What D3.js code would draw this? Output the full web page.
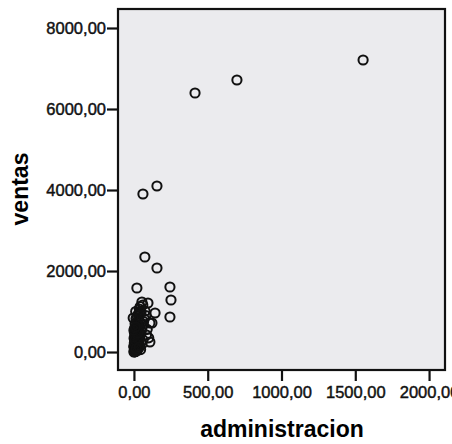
<!DOCTYPE html>
<html>
  <head>
    <meta charset="utf-8">
    <title>ventas vs administracion</title>
    <script src="https://d3js.org/d3.v7.min.js"></script>
    <style>
      body { margin: 0; background: #fff; }
      text { font-family: "Liberation Sans", Arial, sans-serif; }
    </style>
  </head>
  <body>
    <script>
    // data
    var administracion = [1553, 698, 414, 156, 61, 74, 156, 244, 251, 244,
      20, 54, 95, 143, 41, 108, 108, 122, 75, 60,
      0, 2, 5, 3, 8, 10, 1, 6, 12, 4, 15, 9, 20, 14, 18, 22, 25, 7, 11, 28,
      30, 16, 24, 35, 3, 10, 40, 19, 27, 45, 33, 8, 50, 38, 14, 55, 22, 60, 30, 48,
      65, 12, 70, 36, 80, 42, 90, 100, 85, 28, 5, 0, 38, 45, 55, 62, 18, 26, -5,
      4, 9, 13, 17, 21, 26, 31, 2, 7, 11, 16, 23, 29, 34, 1, 6, 14, 19, 25, 32,
      3, 8, 12, 20, 27, 0, 5, 10, 15, 36]
    var ventas = [7210, 6716, 6395, 4099, 3901, 2346, 2074, 1605, 1284, 864,
      1580, 1235, 1210, 963, 988, 716, 247, 716, 1010, 1160,
      0, 20, 40, 60, 10, 90, 120, 150, 180, 210, 240, 270, 300, 30, 70, 110, 140, 330, 360, 200,
      260, 400, 430, 320, 480, 520, 380, 560, 600, 450, 640, 700, 520, 760, 820, 600, 880, 680, 940, 980,
      750, 1000, 820, 1060, 900, 1120, 560, 350, 420, 780, 350, 150, 150, 60, 200, 300, 500, 660, 840,
      5, 15, 25, 45, 55, 80, 100, 130, 160, 190, 220, 250, 280, 310, 340, 370, 20, 65, 105, 170,
      230, 290, 410, 440, 470, 540, 590, 620, 85, 120]
    var xTicks = [0, 500, 1000, 1500, 2000]
    var yTicks = [0, 2000, 4000, 6000, 8000]

    var width = 452
        height = 444
        margin = {top: 9, right: 7, bottom: 74, left: 118}

    var fmt = (d)=> d3.format(".2f")(d).replace(".", ",")

    var x = d3.scaleLinear()
              .domain([-108, 2108])
              .range([margin.left, width - margin.right])

    var y = d3.scaleLinear()
              .domain([-444, 8469])
              .range([height - margin.bottom, margin.top])

    var svg = d3.select("body").append("svg")
                .attr("width", width)
                .attr("height", height)

    svg.append("rect")
      .attr("x", margin.left)
      .attr("y", margin.top)
      .attr("width", width - margin.left - margin.right)
      .attr("height", height - margin.top - margin.bottom)
      .attr("fill", "#ebebee")

    // axes
    var xAxis = svg.append("g")
      .attr("transform", "translate(0," + (height - margin.bottom) + ")")
      .call(d3.axisBottom(x).tickValues(xTicks).tickFormat(fmt).tickSize(11).tickPadding(5))

    var yAxis = svg.append("g")
      .attr("transform", "translate(" + margin.left + ",0)")
      .call(d3.axisLeft(y).tickValues(yTicks).tickFormat(fmt).tickSize(11).tickPadding(1))

    ;[xAxis, yAxis].forEach((g)=>{
      g.select(".domain").remove()
      g.selectAll(".tick line").attr("stroke", "#111").attr("stroke-width", 2.2)
      g.selectAll(".tick text").attr("fill", "#111").attr("font-size", 16.5)
        .attr("stroke", "#111").attr("stroke-width", 0.45)
    })

    // points
    svg.append("g").selectAll("circle")
      .data(d3.zip(administracion, ventas))
      .enter()
      .append("circle")
      .attr("cx", (d)=> x(d[0]))
      .attr("cy", (d)=> y(d[1]))
      .attr("r", 4.6)
      .attr("fill", "none")
      .attr("stroke", "#111")
      .attr("stroke-width", 2)

    // frame
    svg.append("rect")
      .attr("x", margin.left)
      .attr("y", margin.top)
      .attr("width", width - margin.left - margin.right)
      .attr("height", height - margin.top - margin.bottom)
      .attr("fill", "none")
      .attr("stroke", "#111")
      .attr("stroke-width", 2.2)

    svg.append("text")
      .attr("x", 282)
      .attr("y", 437)
      .attr("text-anchor", "middle")
      .attr("font-size", 23)
      .attr("font-weight", "bold")
      .text("administracion")

    svg.append("text")
      .attr("transform", "translate(28,189) rotate(-90)")
      .attr("text-anchor", "middle")
      .attr("font-size", 23)
      .attr("font-weight", "bold")
      .text("ventas")
    </script>
  </body>
</html>
